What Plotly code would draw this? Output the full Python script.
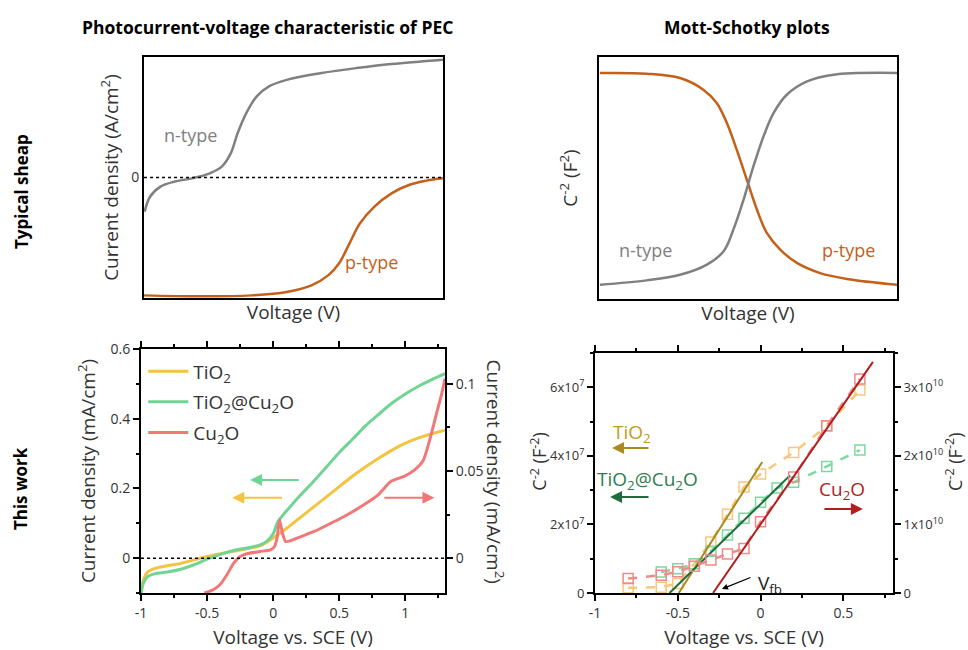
import plotly.graph_objects as go

# ---------------- data ----------------
# Top-left: typical photocurrent-voltage shapes (arbitrary units)
tl_x_n = [0.002, 0.02, 0.055, 0.10, 0.16, 0.22, 0.26, 0.29, 0.313, 0.342, 0.377, 0.418, 0.477, 0.594, 0.71, 0.828, 1.0]
tl_y_n = [-0.284, -0.16, -0.076, -0.035, -0.007, 0.035, 0.09, 0.20, 0.367, 0.534, 0.673, 0.756, 0.81, 0.867, 0.908, 0.942, 0.978]
tl_x_p = [0.0, 0.184, 0.36, 0.477, 0.56, 0.617, 0.652, 0.687, 0.722, 0.77, 0.828, 0.886, 0.945, 1.0]
tl_y_p = [-0.978, -0.986, -0.978, -0.95, -0.895, -0.81, -0.714, -0.548, -0.381, -0.243, -0.132, -0.062, -0.026, -0.007]

# Top-right: typical Mott-Schottky shapes (arbitrary units)
tr_x_p = [0.003, 0.16, 0.272, 0.35, 0.395, 0.429, 0.462, 0.496, 0.53, 0.563, 0.608, 0.664, 0.742, 0.832, 1.0]
tr_y_p = [0.934, 0.931, 0.913, 0.865, 0.81, 0.727, 0.617, 0.493, 0.369, 0.273, 0.204, 0.149, 0.107, 0.083, 0.059]
tr_x_n = [0.003, 0.16, 0.272, 0.362, 0.418, 0.451, 0.485, 0.518, 0.552, 0.586, 0.63, 0.698, 0.787, 1.0]
tr_y_n = [0.059, 0.077, 0.10, 0.142, 0.197, 0.287, 0.41, 0.548, 0.672, 0.769, 0.844, 0.899, 0.927, 0.934]

# Bottom-left: photocurrent vs. SCE (mA/cm2)
v_tio2 = [-1.0, -0.98, -0.95, -0.9, -0.8, -0.7, -0.6, -0.5, -0.4, -0.3, -0.2, -0.1, -0.05, 0.0,
          0.1, 0.2, 0.3, 0.4, 0.5, 0.6, 0.7, 0.8, 0.9, 1.0, 1.1, 1.2, 1.3]
j_tio2 = [-0.1, -0.06, -0.04, -0.03, -0.022, -0.015, -0.005, 0.005, 0.013, 0.02, 0.027, 0.035, 0.045, 0.058,
          0.085, 0.115, 0.145, 0.175, 0.205, 0.235, 0.262, 0.287, 0.31, 0.33, 0.345, 0.357, 0.367]
v_tc = [-1.0, -0.98, -0.95, -0.9, -0.8, -0.7, -0.6, -0.5, -0.4, -0.3, -0.2, -0.1, -0.05, 0.0, 0.03, 0.05,
        0.1, 0.2, 0.3, 0.4, 0.5, 0.6, 0.7, 0.8, 0.9, 1.0, 1.1, 1.2, 1.3]
j_tc = [-0.1, -0.07, -0.053, -0.045, -0.04, -0.032, -0.019, -0.003, 0.011, 0.022, 0.029, 0.038, 0.048, 0.07, 0.1, 0.112,
        0.135, 0.178, 0.218, 0.26, 0.303, 0.341, 0.38, 0.413, 0.445, 0.471, 0.493, 0.512, 0.529]
v_cu = [-0.52, -0.45, -0.4, -0.35, -0.3, -0.25, -0.2, -0.1, -0.02, 0.01, 0.03, 0.048, 0.07, 0.094, 0.13,
        0.21, 0.31, 0.41, 0.54, 0.665, 0.79, 0.89, 0.995, 1.07, 1.135, 1.185, 1.236, 1.274, 1.3]
j_cu = [-0.02, -0.018, -0.015, -0.0095, -0.003, 0.001, 0.0025, 0.0038, 0.0048, 0.0067, 0.012, 0.022, 0.0143, 0.0095, 0.010,
        0.0124, 0.0153, 0.019, 0.024, 0.0296, 0.036, 0.044, 0.047, 0.0506, 0.056, 0.068, 0.083, 0.094, 0.103]

# Bottom-right: Mott-Schottky data
ms_v_tio2 = [-0.8, -0.6, -0.5, -0.4, -0.3, -0.2, -0.1, 0.0, 0.2, 0.4, 0.6]
ms_tio2 = [0.15e7, 0.17e7, 0.28e7, 0.85e7, 1.49e7, 2.3e7, 3.09e7, 3.47e7, 4.1e7, 4.87e7, 5.92e7]
ms_v_tc = [-0.6, -0.5, -0.4, -0.3, -0.2, -0.1, 0.0, 0.1, 0.2, 0.4, 0.6]
ms_tc = [0.61e7, 0.71e7, 0.85e7, 1.22e7, 1.69e7, 2.18e7, 2.65e7, 3.06e7, 3.23e7, 3.69e7, 4.17e7]
ms_v_cu = [-0.8, -0.6, -0.5, -0.4, -0.3, -0.2, -0.1, 0.0, 0.2, 0.4, 0.6]
ms_cu = [0.21e10, 0.26e10, 0.31e10, 0.39e10, 0.48e10, 0.57e10, 0.65e10, 1.04e10, 1.69e10, 2.44e10, 3.12e10]
fit_v_tio2 = [-0.494, 0.01]
fit_tio2 = [0.0, 3.82e7]
fit_v_tc = [-0.55, 0.178]
fit_tc = [0.0, 3.43e7]
fit_v_cu = [-0.287, 0.679]
fit_cu = [0.0, 3.37e10]

bl_xticks = [-1, -0.5, 0, 0.5, 1]
bl_xtext = ["-1", "-0.5", "0", "0.5", "1"]
bl_yticks = [0, 0.2, 0.4, 0.6]
bl_ytext = ["0", "0.2", "0.4", "0.6"]
bl_y2ticks = [0, 0.05, 0.1]
bl_y2text = ["0", "0.05", "0.1"]
br_xticks = [-1, -0.5, 0, 0.5]
br_xtext = ["-1", "-0.5", "0", "0.5"]
br_yticks = [0, 2e7, 4e7, 6e7]
br_ytext = ["0", "2x10<sup>7</sup>", "4x10<sup>7</sup>", "6x10<sup>7</sup>"]
br_y2ticks = [0, 1e10, 2e10, 3e10]
br_y2text = ["0", "1x10<sup>10</sup>", "2x10<sup>10</sup>", "3x10<sup>10</sup>"]

# ---------------- style ----------------
GREY = "#808080"
ORANGE = "#C5601A"
YEL = "#F5C342"
GRN = "#72D493"
RED = "#F27878"
YEL_L = "#F6C97A"
GRN_L = "#7ED9A0"
RED_L = "#F08A8A"
YEL_FIT = "#A88A1E"
GRN_FIT = "#1F6B3B"
RED_FIT = "#B01E1E"
FONT = "Open Sans"
TXT = "#333333"

fig = go.Figure()

# top-left
fig.add_trace(go.Scatter(x=tl_x_n, y=tl_y_n, mode="lines", line=dict(color=GREY, width=2.5, shape="spline"),
                         xaxis="x", yaxis="y", showlegend=False))
fig.add_trace(go.Scatter(x=tl_x_p, y=tl_y_p, mode="lines", line=dict(color=ORANGE, width=2.5, shape="spline"),
                         xaxis="x", yaxis="y", showlegend=False))
# top-right
fig.add_trace(go.Scatter(x=tr_x_p, y=tr_y_p, mode="lines", line=dict(color=ORANGE, width=2.5, shape="spline"),
                         xaxis="x2", yaxis="y2", showlegend=False))
fig.add_trace(go.Scatter(x=tr_x_n, y=tr_y_n, mode="lines", line=dict(color=GREY, width=2.5, shape="spline"),
                         xaxis="x2", yaxis="y2", showlegend=False))
# bottom-left
fig.add_trace(go.Scatter(x=v_tio2, y=j_tio2, mode="lines", name="TiO<sub>2</sub>", legendgroup="a",
                         line=dict(color=YEL, width=3, shape="spline"), xaxis="x3", yaxis="y3"))
fig.add_trace(go.Scatter(x=v_tc, y=j_tc, mode="lines", name="TiO<sub>2</sub>@Cu<sub>2</sub>O", legendgroup="b",
                         line=dict(color=GRN, width=3, shape="spline"), xaxis="x3", yaxis="y3"))
fig.add_trace(go.Scatter(x=v_cu, y=j_cu, mode="lines", name="Cu<sub>2</sub>O", legendgroup="c",
                         line=dict(color=RED, width=3, shape="spline", smoothing=0.6), xaxis="x3", yaxis="y4"))
# bottom-right
fig.add_trace(go.Scatter(x=ms_v_tio2, y=ms_tio2, mode="lines+markers", showlegend=False,
                         line=dict(color=YEL_L, width=2.5, dash="dash"),
                         marker=dict(symbol="square-open", size=10, color=YEL_L, line=dict(width=1.5)),
                         xaxis="x4", yaxis="y5"))
fig.add_trace(go.Scatter(x=ms_v_tc, y=ms_tc, mode="lines+markers", showlegend=False,
                         line=dict(color=GRN_L, width=2.5, dash="dash"),
                         marker=dict(symbol="square-open", size=10, color=GRN_L, line=dict(width=1.5)),
                         xaxis="x4", yaxis="y5"))
fig.add_trace(go.Scatter(x=ms_v_cu, y=ms_cu, mode="lines+markers", showlegend=False,
                         line=dict(color=RED_L, width=2.5, dash="dash"),
                         marker=dict(symbol="square-open", size=10, color=RED_L, line=dict(width=1.5)),
                         xaxis="x4", yaxis="y6"))
fig.add_trace(go.Scatter(x=fit_v_tio2, y=fit_tio2, mode="lines", showlegend=False,
                         line=dict(color=YEL_FIT, width=2), xaxis="x4", yaxis="y5"))
fig.add_trace(go.Scatter(x=fit_v_tc, y=fit_tc, mode="lines", showlegend=False,
                         line=dict(color=GRN_FIT, width=2), xaxis="x4", yaxis="y5"))
fig.add_trace(go.Scatter(x=fit_v_cu, y=fit_cu, mode="lines", showlegend=False,
                         line=dict(color=RED_FIT, width=2), xaxis="x4", yaxis="y6"))

frame = dict(showline=True, linecolor="black", linewidth=2, showgrid=False, zeroline=False, automargin=False)
tickfont = dict(family=FONT, size=14, color=TXT)
titlefont = dict(family=FONT, size=19, color=TXT)

def tickax(**kw):
    d = dict(frame)
    d.update(ticks="outside", ticklen=6, tickwidth=1.5, tickcolor="black", tickfont=tickfont)
    d.update(kw)
    return d

layout = dict(
    width=968, height=650, margin=dict(l=0, r=0, t=0, b=0, autoexpand=False),
    paper_bgcolor="white", plot_bgcolor="white",
    font=dict(family=FONT, color=TXT),
    xaxis=dict(frame, domain=[0.1488, 0.4576], range=[0, 1], mirror=True, showticklabels=False, ticks="",
               anchor="y", title=dict(text="Voltage (V)", font=titlefont, standoff=7)),
    yaxis=dict(frame, domain=[0.5415, 0.9123], range=[-1, 1], mirror=True, tickvals=[0], ticktext=["0"],
               ticks="", tickfont=tickfont, anchor="x",
               title=dict(text="Current density (A/cm<sup>2</sup>)", font=titlefont, standoff=8)),
    xaxis2=dict(frame, domain=[0.6188, 0.9267], range=[0, 1], mirror=True, showticklabels=False, ticks="",
                anchor="y2", title=dict(text="Voltage (V)", font=titlefont, standoff=7)),
    yaxis2=dict(frame, domain=[0.54, 0.9123], range=[0, 1], mirror=True, showticklabels=False, ticks="",
                anchor="x2", title=dict(text="C<sup>-2</sup> (F<sup>2</sup>)", font=titlefont, standoff=14)),
    xaxis3=tickax(domain=[0.1457, 0.4597], range=[-1, 1.3], mirror="ticks", tickvals=bl_xticks, ticktext=bl_xtext,
                  minor=dict(tick0=-1, dtick=0.25, ticklen=3, tickcolor="black", ticks="outside"),
                  anchor="y3", title=dict(text="Voltage vs. SCE (V)", font=titlefont, standoff=10)),
    yaxis3=tickax(domain=[0.0877, 0.4631], range=[-0.1, 0.6], tickvals=bl_yticks, ticktext=bl_ytext,
                  minor=dict(tick0=0, dtick=0.1, ticklen=3, tickcolor="black", ticks="outside"),
                  anchor="x3", title=dict(text="Current density (mA/cm<sup>2</sup>)", font=titlefont, standoff=10)),
    yaxis4=tickax(domain=[0.0877, 0.4631], range=[-0.02, 0.12], tickvals=bl_y2ticks, ticktext=bl_y2text,
                  minor=dict(tick0=0, dtick=0.025, ticklen=3, tickcolor="black", ticks="outside"),
                  overlaying="y3", side="right", anchor="x3"),
    xaxis4=tickax(domain=[0.6147, 0.9225], range=[-1, 0.8], mirror="ticks", tickvals=br_xticks, ticktext=br_xtext,
                  minor=dict(tick0=-1, dtick=0.25, ticklen=3, tickcolor="black", ticks="outside"),
                  anchor="y5", title=dict(text="Voltage vs. SCE (V)", font=titlefont, standoff=12)),
    yaxis5=tickax(domain=[0.0877, 0.4569], range=[0, 7e7], tickvals=br_yticks, ticktext=br_ytext,
                  tickfont=dict(family=FONT, size=13, color=TXT),
                  minor=dict(tick0=0, dtick=1e7, ticklen=3, tickcolor="black", ticks="outside"),
                  anchor="x4"),
    yaxis6=tickax(domain=[0.0877, 0.4569], range=[0, 3.5e10], tickvals=br_y2ticks, ticktext=br_y2text,
                  tickfont=dict(family=FONT, size=13, color=TXT),
                  minor=dict(tick0=0, dtick=0.5e10, ticklen=3, tickcolor="black", ticks="outside"),
                  overlaying="y5", side="right", anchor="x4"),
    legend=dict(x=0.148, y=0.458, xanchor="left", yanchor="top", bgcolor="rgba(0,0,0,0)",
                font=dict(family=FONT, size=19, color=TXT), tracegroupgap=3, itemwidth=40),
    shapes=[
        dict(type="line", xref="x", yref="y", x0=0, x1=1, y0=0, y1=0, line=dict(color="black", width=1.5, dash="dot")),
        dict(type="line", xref="x3", yref="y3", x0=-1, x1=1.3, y0=0, y1=0, line=dict(color="black", width=1.5, dash="dot")),
    ],
)
fig.update_layout(layout)

C = dict(xanchor="center", yanchor="middle", showarrow=False)
ann = []
# titles and row labels
ann.append(dict(C, text="<b>Photocurrent-voltage characteristic of PEC</b>", xref="paper", yref="paper",
                x=0.276, y=0.958, font=dict(family=FONT, size=17.5, color="black")))
ann.append(dict(C, text="<b>Mott-Schotky plots</b>", xref="paper", yref="paper",
                x=0.772, y=0.958, font=dict(family=FONT, size=17.5, color="black")))
ann.append(dict(C, text="<b>Typical sheap</b>", xref="paper", yref="paper", textangle=-90,
                x=0.022, y=0.705, font=dict(family=FONT, size=17, color="black")))
ann.append(dict(C, text="<b>This work</b>", xref="paper", yref="paper", textangle=-90,
                x=0.022, y=0.248, font=dict(family=FONT, size=17, color="black")))
# top panels labels
ann.append(dict(C, text="n-type", xref="x", yref="y", x=0.155, y=0.354,
                font=dict(family=FONT, size=18, color=GREY)))
ann.append(dict(C, text="p-type", xref="x", yref="y", x=0.76, y=-0.7,
                font=dict(family=FONT, size=18, color=ORANGE)))
ann.append(dict(C, text="n-type", xref="x2", yref="y2", x=0.157, y=0.204,
                font=dict(family=FONT, size=18, color=GREY)))
ann.append(dict(C, text="p-type", xref="x2", yref="y2", x=0.838, y=0.204,
                font=dict(family=FONT, size=18, color=ORANGE)))
# right axis title of bottom-left (rotated clockwise)
ann.append(dict(C, text="Current density (mA/cm<sup>2</sup>)", xref="paper", yref="paper", textangle=90,
                x=0.511, y=0.275, font=titlefont))
# bottom-right axis titles
ann.append(dict(C, text="C<sup>-2</sup> (F<sup>-2</sup>)", xref="paper", yref="paper", textangle=-90,
                x=0.556, y=0.29, font=dict(family=FONT, size=18, color=TXT)))
ann.append(dict(C, text="C<sup>-2</sup> (F<sup>-2</sup>)", xref="paper", yref="paper", textangle=-90,
                x=0.985, y=0.29, font=dict(family=FONT, size=18, color=TXT)))
# bottom-left arrows
for (x0, x1, y, c) in [(0.205, -0.175, 0.2245, GRN), (0.078, -0.31, 0.173, YEL), (0.83, 1.22, 0.173, RED)]:
    ann.append(dict(x=x1, y=y, ax=x0, ay=y, xref="x3", yref="y3", axref="x3", ayref="y3", text="",
                    showarrow=True, arrowhead=2, arrowsize=1.2, arrowwidth=2, arrowcolor=c))
# bottom-right labels and arrows
ann.append(dict(C, text="TiO<sub>2</sub>", xref="x4", yref="y5", x=-0.777, y=4.67e7,
                font=dict(family=FONT, size=19, color="#C09A22")))
ann.append(dict(C, text="TiO<sub>2</sub>@Cu<sub>2</sub>O", xref="x4", yref="y5", x=-0.68, y=3.3e7,
                font=dict(family=FONT, size=19, color="#2E7D4F")))
ann.append(dict(C, text="Cu<sub>2</sub>O", xref="x4", yref="y5", x=0.49, y=3.0e7,
                font=dict(family=FONT, size=19, color=RED_FIT)))
ann.append(dict(C, text="V<sub>fb</sub>", xref="x4", yref="y5", x=0.06, y=0.27e7,
                font=dict(family=FONT, size=19, color="#222")))
for (x0, x1, y, c) in [(-0.668, -0.897, 4.23e7, YEL_FIT), (-0.668, -0.909, 2.8e7, GRN_FIT), (0.377, 0.618, 2.45e7, RED_FIT)]:
    ann.append(dict(x=x1, y=y, ax=x0, ay=y, xref="x4", yref="y5", axref="x4", ayref="y5", text="",
                    showarrow=True, arrowhead=2, arrowsize=1.2, arrowwidth=2, arrowcolor=c))
ann.append(dict(x=-0.233, y=0.117e7, ax=-0.052, ay=0.47e7, xref="x4", yref="y5", axref="x4", ayref="y5", text="",
                showarrow=True, arrowhead=2, arrowsize=1, arrowwidth=1.2, arrowcolor="black"))
fig.update_layout(annotations=ann)

fig.write_html("out.html")
